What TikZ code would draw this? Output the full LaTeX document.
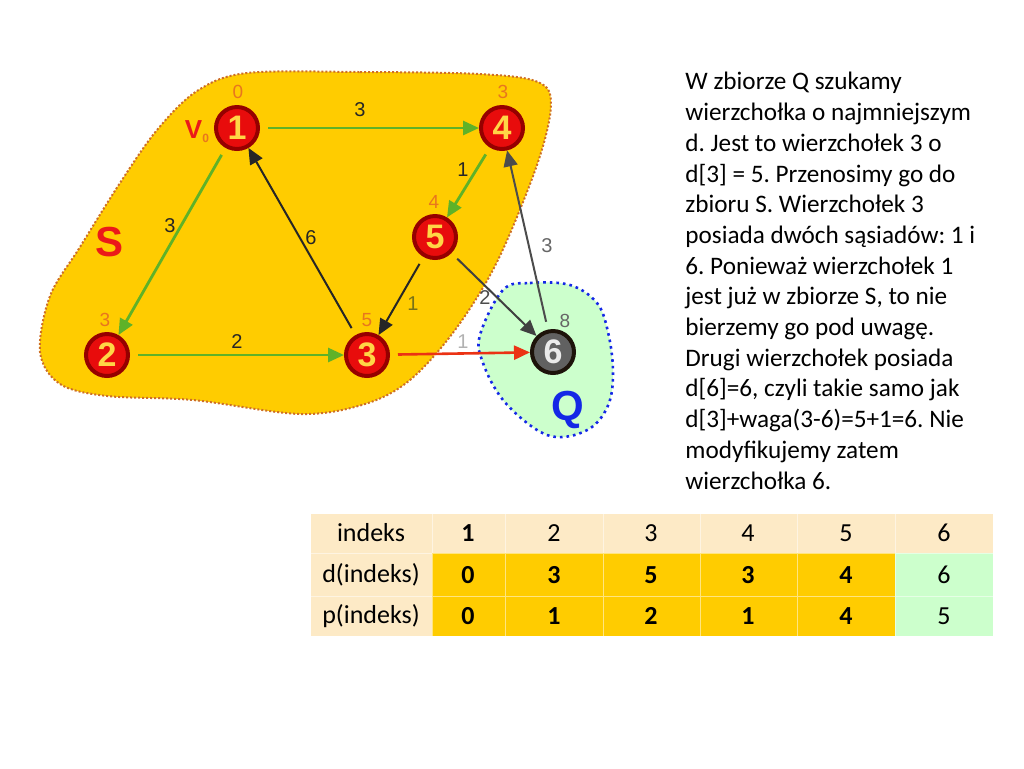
\documentclass[tikz,border=0pt]{standalone}
\usepackage{fontspec}
\setmainfont{Carlito}
\newfontfamily\gfont{Liberation Sans}
\usetikzlibrary{arrows.meta}
\definecolor{blobY}{RGB}{255,204,0}
\definecolor{blobEdge}{RGB}{205,110,40}
\definecolor{qgreen}{RGB}{204,255,204}
\definecolor{qblue}{RGB}{20,40,230}
\definecolor{nred}{RGB}{232,12,12}
\definecolor{ndark}{RGB}{150,0,0}
\definecolor{nyellow}{RGB}{255,214,70}
\definecolor{egreen}{RGB}{95,178,40}
\definecolor{dorange}{RGB}{232,118,30}
\definecolor{cream}{RGB}{253,234,198}
\definecolor{tgreen}{RGB}{204,255,204}
\definecolor{ered}{RGB}{235,50,20}
\definecolor{sred}{RGB}{235,25,25}
\frenchspacing
\begin{document}
\begin{tikzpicture}[x=0.5pt,y=-0.5pt,
  vert/.style={circle,fill=nred,draw=ndark,line width=2pt,minimum size=21pt,inner sep=0pt,
    text=nyellow,font=\gfont\bfseries\fontsize{17}{17}\selectfont},
  vdark/.style={vert,fill=black!62,draw=black!85!brown,text=white!92!black},
  dist/.style={text=dorange,font=\gfont\fontsize{9.5}{9.5}\selectfont,inner sep=0pt},
  elab/.style={text=black!85,font=\gfont\fontsize{10}{10}\selectfont,inner sep=0pt},
  gedge/.style={draw=egreen,line width=1.4pt,shorten <=4pt,-{Triangle[length=8pt,width=7pt]}},
  kedge/.style={draw=black!85,line width=1pt,shorten <=4pt,-{Triangle[length=8pt,width=7pt]}},
  cell/.style={inner sep=0pt,font=\fontsize{13}{13}\selectfont},
  bcell/.style={cell,font=\fontsize{13}{13}\selectfont\bfseries},
]
\useasboundingbox (0,0) rectangle (1024,768);

% S blob
\draw[fill=blobY,draw=blobEdge,line width=1pt,densely dotted]
  plot[smooth cycle,tension=0.55] coordinates {
  (247,73) (360,72) (480,74) (538,82) (551,105) (537,165) (497,262) (455,330)
  (410,380) (365,404) (300,414) (193,400) (107,396) (60,384) (40,352) (50,296)
  (80,247) (120,183) (157,130) (197,91)};
% Q blob
\draw[fill=qgreen,draw=qblue,line width=1.3pt,dotted]
  plot[smooth cycle,tension=0.6] coordinates {
  (503,290) (530,283) (570,285) (597,303) (608,332) (613,370) (609,403) (592,427)
  (563,437) (537,430) (503,400) (483,363) (480,335)};

\node[text=sred,font=\gfont\bfseries\fontsize{21}{21}\selectfont,inner sep=0pt] (S) at (110,242) {S};
\node[text=qblue,font=\gfont\bfseries\fontsize{21}{21}\selectfont,inner sep=0pt] (Q) at (568,410) {Q};

% vertices
\node[vert] (n1) at (237,128) {1};
\node[vert] (n4) at (502,128) {4};
\node[vert] (n5) at (435,237) {5};
\node[vert] (n2) at (107,355) {2};
\node[vert] (n3) at (367,355) {3};
\node[vdark] (n6) at (553,352) {6};

% distance labels
\node[dist] (d1) at (238,92) {0};
\node[dist] (d4) at (503,92) {3};
\node[dist] (d5) at (434,202) {4};
\node[dist] (d2) at (105,320) {3};
\node[dist] (d3) at (367,320) {5};
\node[dist,text=black!60] (d6) at (565,321) {8};
\node[text=sred,font=\gfont\bfseries\fontsize{13}{13}\selectfont,inner sep=0pt] (v0) at (197,132)
  {V\raisebox{-2pt}{\textcolor{dorange}{\fontsize{6}{6}\selectfont 0}}};

% edges
\draw[gedge] (n1) -- (n4);
\draw[gedge] (n1) -- (n2);
\draw[gedge] (n4) -- (n5);
\draw[gedge] (n2) -- (n3);
\draw[kedge] (n3) -- (n1);
\draw[kedge] (n5) -- (n3);
\draw[kedge,draw=black!75] (n5) -- (n6);
\draw[kedge,draw=black!70] (n6) -- (n4);
\draw[kedge,draw=ered,line width=1.3pt] (n3) -- (n6);

% edge labels
\node[elab] (w14) at (360,110) {3};
\node[elab] (w12) at (170,226) {3};
\node[elab] (w45) at (463,170) {1};
\node[elab] (w31) at (311,238) {6};
\node[elab,text=olive!80!black] (w53) at (413,304) {1};
\node[elab,text=black!70] (w56) at (485,298) {2};
\node[elab,text=black!60] (w64) at (547,246) {3};
\node[elab,text=black!30] (w36) at (463,342) {1};
\node[elab] (w23) at (237,342) {2};

% description
\node[anchor=north west,inner sep=0pt,align=left,font=\fontsize{12.6}{15.35}\selectfont] (txt) at (685,72) {%
W zbiorze Q szukamy\\
wierzchołka o najmniejszym\\
d. Jest to wierzchołek 3 o\\
d[3] = 5. Przenosimy go do\\
zbioru S. Wierzchołek 3\\
posiada dwóch sąsiadów: 1 i\\
6. Ponieważ wierzchołek 1\\
jest już w zbiorze S, to nie\\
bierzemy go pod uwagę.\\
Drugi wierzchołek posiada\\
d[6]=6, czyli takie samo jak\\
d[3]+waga(3-6)=5+1=6. Nie\\
modyfikujemy zatem\\
wierzchołka 6.};

% table backgrounds
\fill[cream] (311,514) rectangle (993,553);
\fill[cream] (311,553) rectangle (432,636);
\fill[blobY] (432,553) rectangle (895,636);
\fill[tgreen] (895,553) rectangle (993,636);
\draw[white,opacity=0.5,line width=0.3pt] (311,553) -- (993,553) (311,596) -- (993,596)
  (432,514) -- (432,636) (505,514) -- (505,636) (603,514) -- (603,636)
  (700,514) -- (700,636) (797,514) -- (797,636) (895,514) -- (895,636);

% table text
\node[cell] (h0) at (371,533) {indeks};
\node[bcell] (h1) at (468,533) {1};
\node[cell] (h2) at (554,533) {2};
\node[cell] (h3) at (651,533) {3};
\node[cell] (h4) at (748,533) {4};
\node[cell] (h5) at (846,533) {5};
\node[cell] (h6) at (944,533) {6};
\node[cell] (r0) at (371,575) {d(indeks)};
\node[bcell] (r1) at (468,575) {0};
\node[bcell] (r2) at (554,575) {3};
\node[bcell] (r3) at (651,575) {5};
\node[bcell] (r4) at (748,575) {3};
\node[bcell] (r5) at (846,575) {4};
\node[cell] (r6) at (944,575) {6};
\node[cell] (p0) at (371,616) {p(indeks)};
\node[bcell] (p1) at (468,616) {0};
\node[bcell] (p2) at (554,616) {1};
\node[bcell] (p3) at (651,616) {2};
\node[bcell] (p4) at (748,616) {1};
\node[bcell] (p5) at (846,616) {4};
\node[cell] (p6) at (944,616) {5};
\end{tikzpicture}
\end{document}
